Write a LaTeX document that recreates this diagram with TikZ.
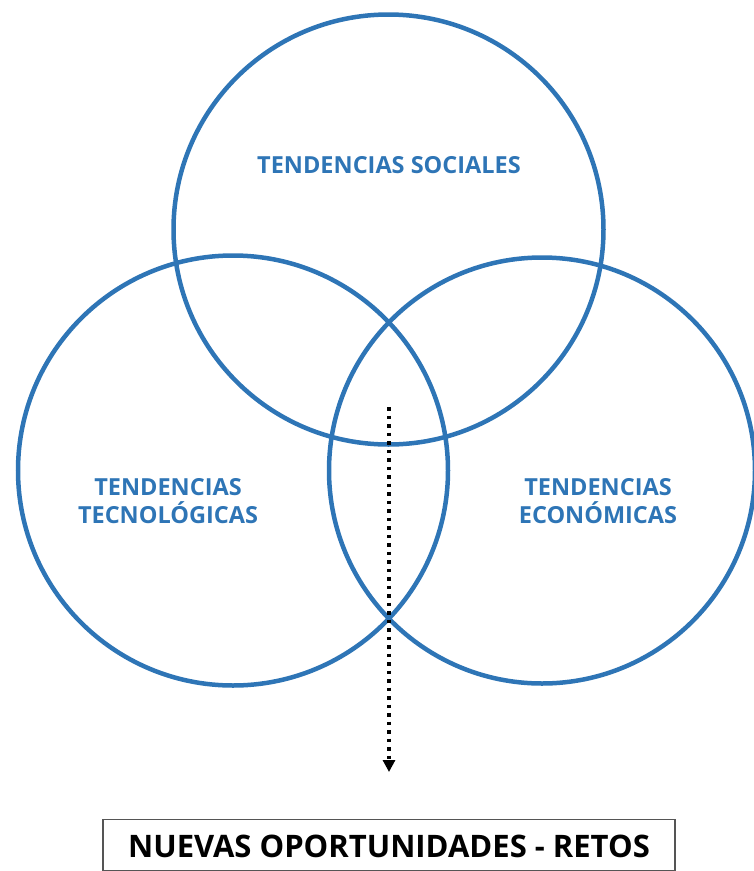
\documentclass[tikz,border=0pt]{standalone}
\usepackage{fontspec}
\setmainfont{Open Sans}
\usetikzlibrary{arrows.meta}
\definecolor{vennblue}{HTML}{2E75B6}
\definecolor{boxgray}{HTML}{555555}
\begin{document}
\begin{tikzpicture}[x=1pt,y=-1pt,
  venn/.style={circle,draw=vennblue,line width=4.5pt,minimum size=430pt,inner sep=0pt,outer sep=0pt},
  vlabel/.style={text=vennblue,font=\fontsize{23.5}{28}\selectfont\bfseries,align=center,inner sep=0pt},
  result/.style={draw=boxgray,line width=1.5pt,minimum width=572pt,minimum height=51pt,inner sep=0pt,
    font=\fontsize{31}{36}\selectfont\bfseries},
  dotarrow/.style={line width=3.5pt,dash pattern=on 3.5pt off 5pt,-{Triangle[length=12pt,width=12pt]}}]
\useasboundingbox (0,0) rectangle (754,871);
\node[venn] (soc) at (388.5,229.5) {};
\node[venn] (tec) at (233,470.5) {};
\node[venn,minimum size=426pt] (eco) at (542,470.5) {};
\node[vlabel] (tsoc) at (389,165) {TENDENCIAS SOCIALES};
\node[vlabel] (ttec) at (168,501) {TENDENCIAS\\TECNOLÓGICAS};
\node[vlabel] (teco) at (598,501) {TENDENCIAS\\ECONÓMICAS};
\node[result] (res) at (389,845) {};
\node[font=\fontsize{31}{36}\selectfont\bfseries,inner sep=0pt,anchor=base] (restext) at (389,857) {NUEVAS OPORTUNIDADES - RETOS};
\coordinate (a1) at (389,407);
\coordinate (a2) at (389,772);
\draw[dotarrow] (a1) -- (a2);
\end{tikzpicture}
\end{document}
